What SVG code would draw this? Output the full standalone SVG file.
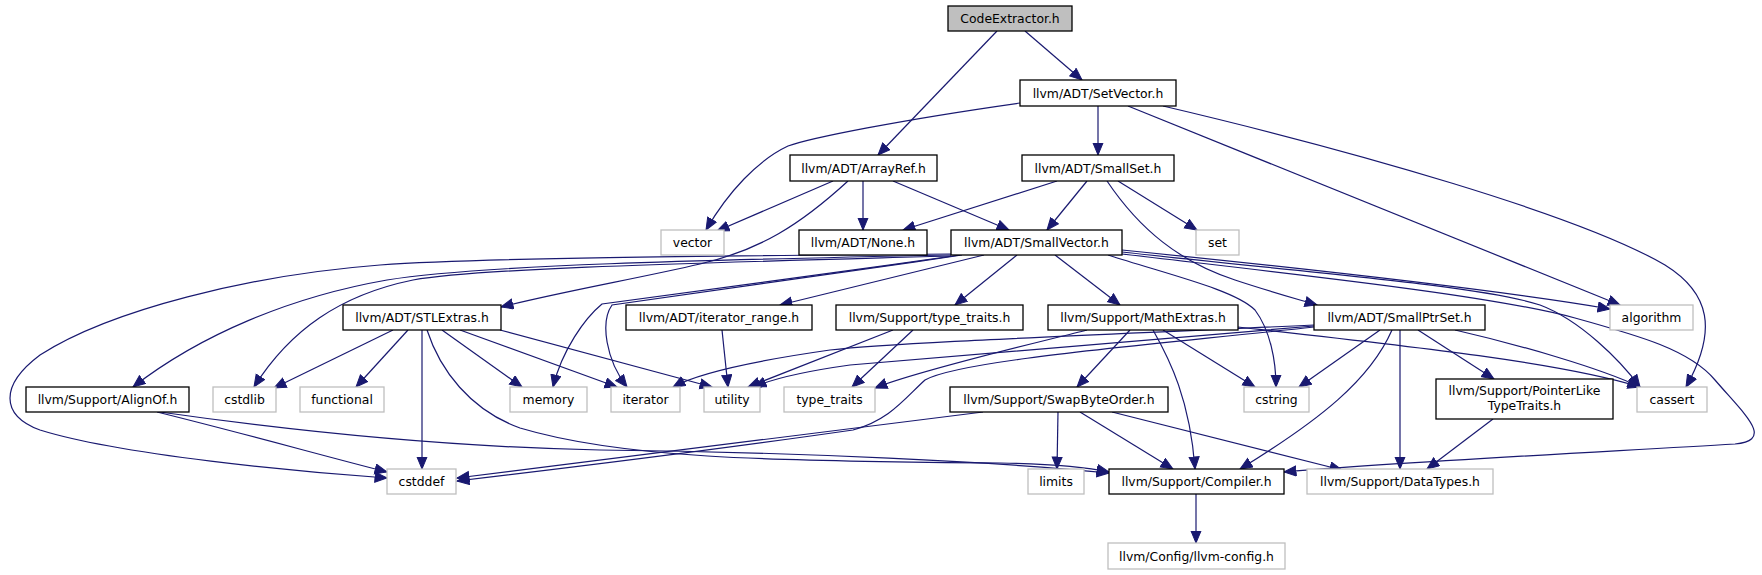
<svg xmlns="http://www.w3.org/2000/svg" width="1762" height="575" viewBox="0 0 1762 575">
<style>
rect{fill:#fff;stroke:#000;stroke-width:1.3}
.g rect{stroke:#bfbfbf}
#n_ce rect{fill:#bfbfbf}
text{font-family:"DejaVu Sans","Liberation Sans",sans-serif;font-size:12.4px;text-anchor:middle;fill:#000}
#edges path{fill:none;stroke:#191970;stroke-width:1.2;marker-end:url(#ah)}
</style>
<defs>
<marker id="ah" markerUnits="userSpaceOnUse" markerWidth="14" markerHeight="12" refX="12.5" refY="5.5" orient="auto" viewBox="0 0 14 12">
<path d="M0.5,0.5 L12.5,5.5 L0.5,10.5 z" fill="#191970" stroke="#191970" stroke-width="1"/>
</marker>
</defs>
<rect x="0" y="0" width="1762" height="575" style="fill:#fff;stroke:none"/>
<g id="edges">
<path d="M997,31 L878,155"/>
<path d="M1025,31 L1082,80"/>
<path d="M1020,103 C900,120 810,138 788,146 C758,160 728,192 706,230"/>
<path d="M1098,106 L1098,155"/>
<path d="M1128,106 L1620,305"/>
<path d="M1163,106 C1350,150 1580,215 1665,265 C1710,293 1718,330 1686,387"/>
<path d="M833,181 L717,231"/>
<path d="M863,181 L863,230"/>
<path d="M893,181 L1009,230"/>
<path d="M848,181 C800,225 760,250 700,264 C640,278 560,292 501,307"/>
<path d="M1057,181 L903,230"/>
<path d="M1087,181 L1047,230"/>
<path d="M1118,181 L1197,230"/>
<path d="M1107,181 C1140,230 1180,262 1235,280 C1265,290 1290,297 1317,305"/>
<path d="M951,255 C700,260 480,265 387,280 C290,297 200,335 133,387"/>
<path d="M951,254 C700,256 480,258 380,265 C250,275 110,310 40,355 C0,385 0,415 40,430 C120,455 300,472 387,478"/>
<path d="M951,256 C700,263 480,268 413,280 C340,295 290,330 254,387"/>
<path d="M960,255 C820,275 660,297 602,304 C585,318 562,350 553,387"/>
<path d="M962,255 C820,276 665,298 612,305 C600,322 606,360 627,387"/>
<path d="M984,255 L780,305"/>
<path d="M1017,255 L955,305"/>
<path d="M1055,255 L1120,305"/>
<path d="M1108,255 C1170,275 1235,290 1255,310 C1270,330 1276,360 1276,387"/>
<path d="M1122,250 C1300,268 1500,290 1610,309"/>
<path d="M1122,252 C1300,272 1480,285 1540,305 C1580,320 1620,360 1640,387"/>
<path d="M1122,254 C1300,275 1490,295 1575,318 C1640,336 1690,350 1715,380 C1745,415 1775,440 1735,444 C1600,452 1400,462 1284,472"/>
<path d="M393,330 L274,388"/>
<path d="M408,330 L356,387"/>
<path d="M422,330 L422,469"/>
<path d="M427,330 C440,370 470,410 520,428 C620,458 760,461 1000,463 C1050,464 1090,468 1109,472"/>
<path d="M442,330 L522,387"/>
<path d="M460,330 L617,387"/>
<path d="M500,330 L712,387"/>
<path d="M157,412 C250,435 320,455 387,472"/>
<path d="M160,412 C300,432 450,447 600,450 C800,452 1000,462 1109,473"/>
<path d="M722,330 L728,387"/>
<path d="M893,330 L748,387"/>
<path d="M913,330 L852,387"/>
<path d="M1130,330 L1077,387"/>
<path d="M1153,330 C1170,360 1190,400 1195,469"/>
<path d="M1163,330 L1255,387"/>
<path d="M1238,327 C1400,345 1560,362 1640,387"/>
<path d="M1087,330 C1040,342 920,370 875,388"/>
<path d="M983,412 L457,478"/>
<path d="M1058,412 L1057,469"/>
<path d="M1080,412 L1173,469"/>
<path d="M1112,412 L1342,470"/>
<path d="M1380,330 L1299,387"/>
<path d="M1392,330 C1370,380 1320,420 1240,469"/>
<path d="M1400,330 L1400,469"/>
<path d="M1418,330 L1494,379"/>
<path d="M1455,330 C1520,345 1600,368 1640,387"/>
<path d="M1314,325 C1100,335 900,342 830,350 C760,360 700,372 673,387"/>
<path d="M1314,326 C1100,345 900,360 850,365 C800,372 770,380 754,387"/>
<path d="M1314,327 C1150,345 960,360 925,380 C905,398 890,420 853,430 C700,452 550,470 457,481"/>
<path d="M1493,419 L1427,469"/>
<path d="M1196,494 L1196,543"/>
</g>
<g id="n_ce"><rect x="948" y="6" width="124" height="25"/><text x="1010" y="23">CodeExtractor.h</text></g>
<g id="n_sv"><rect x="1020" y="80" width="156" height="26"/><text x="1098" y="97.5">llvm/ADT/SetVector.h</text></g>
<g id="n_ar"><rect x="790" y="155" width="147" height="26"/><text x="863.5" y="172.5">llvm/ADT/ArrayRef.h</text></g>
<g id="n_ss"><rect x="1022" y="155" width="152" height="26"/><text x="1098" y="172.5">llvm/ADT/SmallSet.h</text></g>
<g id="n_vec" class="g"><rect x="661" y="230" width="63" height="25"/><text x="692.5" y="247">vector</text></g>
<g id="n_none"><rect x="799" y="230" width="128" height="25"/><text x="863" y="247">llvm/ADT/None.h</text></g>
<g id="n_svec"><rect x="951" y="230" width="171" height="25"/><text x="1036.5" y="247">llvm/ADT/SmallVector.h</text></g>
<g id="n_set" class="g"><rect x="1196" y="230" width="43" height="25"/><text x="1217.5" y="247">set</text></g>
<g id="n_stl"><rect x="343" y="305" width="158" height="25"/><text x="422" y="322">llvm/ADT/STLExtras.h</text></g>
<g id="n_itr"><rect x="626" y="305" width="186" height="25"/><text x="719" y="322">llvm/ADT/iterator_range.h</text></g>
<g id="n_tt"><rect x="836" y="305" width="187" height="25"/><text x="929.5" y="322">llvm/Support/type_traits.h</text></g>
<g id="n_me"><rect x="1048" y="305" width="190" height="25"/><text x="1143" y="322">llvm/Support/MathExtras.h</text></g>
<g id="n_sps"><rect x="1314" y="305" width="171" height="25"/><text x="1399.5" y="322">llvm/ADT/SmallPtrSet.h</text></g>
<g id="n_alg" class="g"><rect x="1610" y="305" width="83" height="25"/><text x="1651.5" y="322">algorithm</text></g>
<g id="n_align"><rect x="26" y="387" width="163" height="25"/><text x="107.5" y="404">llvm/Support/AlignOf.h</text></g>
<g id="n_cstdlib" class="g"><rect x="213" y="387" width="63" height="25"/><text x="244.5" y="404">cstdlib</text></g>
<g id="n_func" class="g"><rect x="300" y="387" width="84" height="25"/><text x="342" y="404">functional</text></g>
<g id="n_mem" class="g"><rect x="510" y="387" width="77" height="25"/><text x="548.5" y="404">memory</text></g>
<g id="n_iter" class="g"><rect x="611" y="387" width="69" height="25"/><text x="645.5" y="404">iterator</text></g>
<g id="n_util" class="g"><rect x="704" y="387" width="56" height="25"/><text x="732" y="404">utility</text></g>
<g id="n_stt" class="g"><rect x="784" y="387" width="91" height="25"/><text x="829.5" y="404">type_traits</text></g>
<g id="n_swap"><rect x="950" y="387" width="218" height="25"/><text x="1059" y="404">llvm/Support/SwapByteOrder.h</text></g>
<g id="n_cstring" class="g"><rect x="1244" y="387" width="65" height="25"/><text x="1276.5" y="404">cstring</text></g>
<g id="n_pltt"><rect x="1436" y="379" width="177" height="40"/><text x="1524.5" y="395">llvm/Support/PointerLike</text><text x="1524.5" y="410">TypeTraits.h</text></g>
<g id="n_cassert" class="g"><rect x="1637" y="387" width="70" height="25"/><text x="1672" y="404">cassert</text></g>
<g id="n_cstddef" class="g"><rect x="387" y="469" width="69" height="25"/><text x="421.5" y="486">cstddef</text></g>
<g id="n_limits" class="g"><rect x="1028" y="469" width="56" height="25"/><text x="1056" y="486">limits</text></g>
<g id="n_comp"><rect x="1109" y="469" width="175" height="25"/><text x="1196.5" y="486">llvm/Support/Compiler.h</text></g>
<g id="n_dt" class="g"><rect x="1307" y="469" width="186" height="25"/><text x="1400" y="486">llvm/Support/DataTypes.h</text></g>
<g id="n_cfg" class="g"><rect x="1108" y="543" width="177" height="26"/><text x="1196.5" y="560.5">llvm/Config/llvm-config.h</text></g>
</svg>
